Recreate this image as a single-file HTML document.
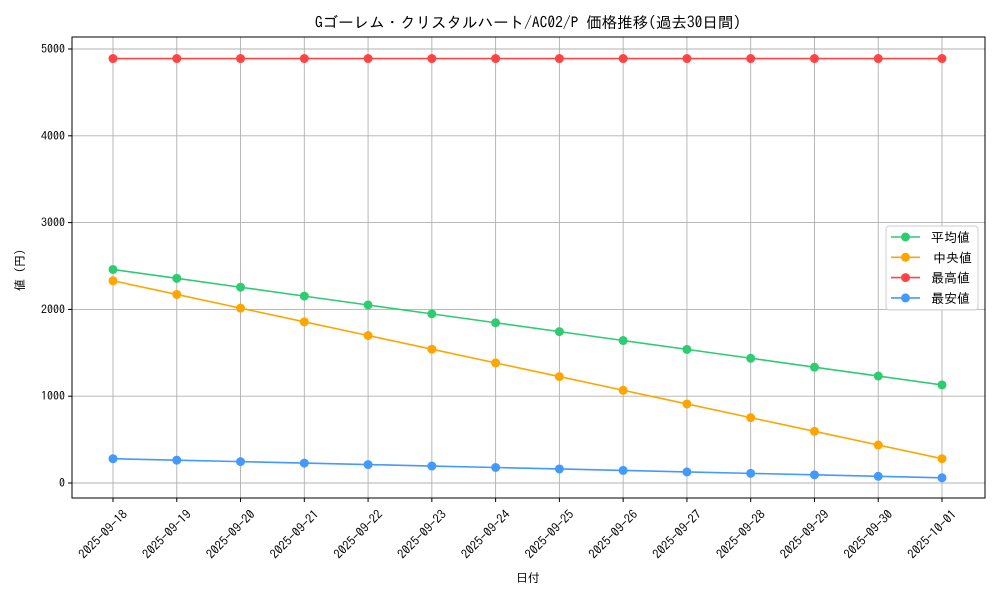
<!DOCTYPE html>
<html><head><meta charset="utf-8"><style>body{margin:0;background:#fff}svg{display:block}text{font-family:"IPAGothic","Noto Sans CJK JP",sans-serif;fill:#000}</style></head>
<body>
<svg id="s" width="1000" height="600" xmlns="http://www.w3.org/2000/svg"></svg>
<script>
const s=document.getElementById('s');
let h='';
const L=72,R=985,T=37,B=498;
const x0=113,dx=(942-113)/13;
const Y=v=>483-v*0.0868;
h+=`<text x="528" y="28" font-size="15.5" text-anchor="middle">Gゴーレム・クリスタルハート/AC02/P 価格推移(過去30日間)</text>`;
const dates=[];for(let i=18;i<=30;i++)dates.push('2025-09-'+i);dates.push('2025-10-01');
for(let i=0;i<14;i++){const x=x0+i*dx;h+=`<line x1="${x}" y1="${T}" x2="${x}" y2="${B}" stroke="#b0b0b0" stroke-width="0.9"/><line x1="${x}" y1="${B}" x2="${x}" y2="${B+4}" stroke="#000"/>`;
h+=`<text transform="translate(${x+9},${B+11}) rotate(-45)" font-size="12.5" text-anchor="end" dominant-baseline="hanging">${dates[i]}</text>`;}
for(let v=0;v<=5000;v+=1000){const y=Y(v);h+=`<line x1="${L}" y1="${y}" x2="${R}" y2="${y}" stroke="#b0b0b0" stroke-width="0.9"/><line x1="${L-4}" y1="${y}" x2="${L}" y2="${y}" stroke="#000"/><text x="${L-7}" y="${y+4}" font-size="12" text-anchor="end">${v}</text>`;}
h+=`<rect x="${L}" y="${T}" width="${R-L}" height="${B-T}" fill="none" stroke="#000" stroke-width="1"/>`;
const ser=[
['#2ecc71',i=>2460-i*102.3],
['#ffa500',i=>2330-i*157.7],
['#ff4444',i=>4890],
['#4499ff',i=>280-i*16.9]];
for(const [c,f] of ser){let p='';let m='';for(let i=0;i<14;i++){const x=x0+i*dx,y=Y(f(i));p+=(i?'L':'M')+x+','+y;m+=`<circle cx="${x}" cy="${y}" r="4.5" fill="${c}"/>`;}
h+=`<path d="${p}" fill="none" stroke="${c}" stroke-width="1.6"/>`+m;}
h+=`<rect x="886" y="226" width="92" height="84" rx="3" fill="#fff" fill-opacity="0.8" stroke="#ccc"/>`;
const lab=['平均値','中央値','最高値','最安値'];
for(let i=0;i<4;i++){const y=237+i*20.3;h+=`<line x1="891" y1="${y}" x2="920" y2="${y}" stroke="${ser[i][0]}" stroke-width="1.6"/><circle cx="905.5" cy="${y}" r="4.5" fill="${ser[i][0]}"/><text x="${i==1?933:931}" y="${y+5}" font-size="13">${lab[i]}</text>`;}
h+=`<text x="528" y="582" font-size="12" text-anchor="middle">日付</text>`;
h+=`<text transform="translate(24,270) rotate(-90)" font-size="12" text-anchor="middle">値 (円)</text>`;
s.innerHTML=h;
</script>
</body></html>
